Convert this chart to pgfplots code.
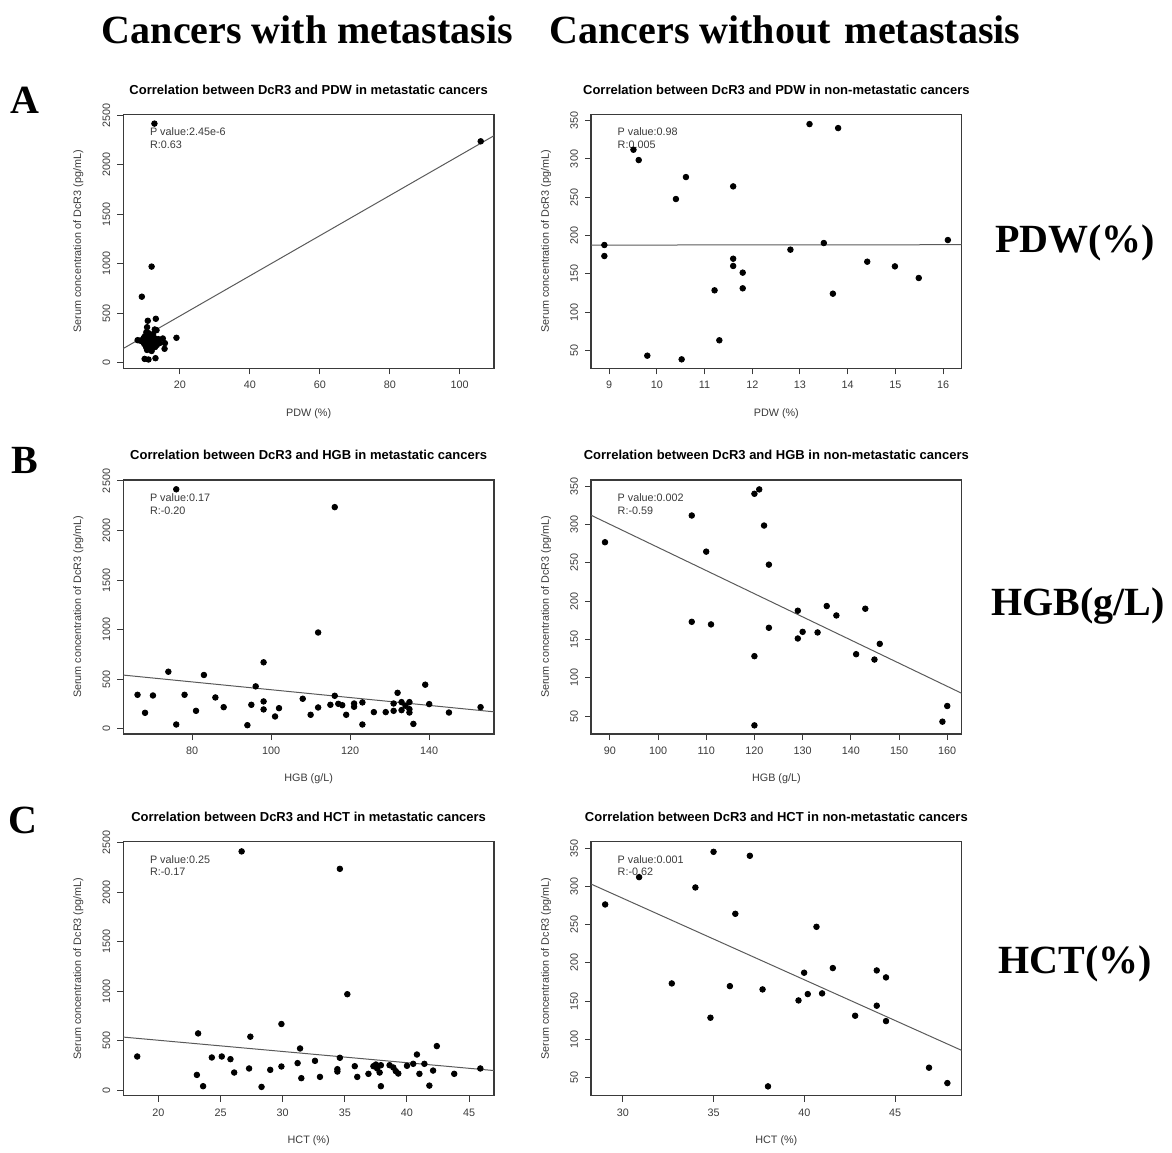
\documentclass[border=0pt]{standalone}
\usepackage{pgfplots}
\pgfplotsset{compat=1.18}
\usepackage{fontspec}
\setmainfont{Liberation Sans}
\newfontfamily\tnr{Liberation Serif}
\definecolor{axgray}{HTML}{3A3A3A}
\definecolor{lngray}{HTML}{5A5A5A}
\pgfplotsset{
 rplot/.style={
  scale only axis, width=185.35pt, height=127pt,
  anchor=south west,
  axis line style={axgray, line width=0.6pt},
  tick align=outside, tick pos=left,
  major tick length=3pt,
  every tick/.style={axgray, line width=0.5pt},
  minor tick num=0,
  /pgf/number format/assume math mode=true,
  /pgf/number format/1000 sep={},
  ticklabel style={font=\fontsize{5.4}{6}\selectfont, text=axgray},
  yticklabel style={rotate=90, anchor=south},
  every axis title/.style={at={(axis description cs:0.5,1.098)}, anchor=center, font=\fontsize{6.5}{7}\selectfont\bfseries},
  every axis x label/.style={at={(axis description cs:0.5,-0.177)}, anchor=center, font=\fontsize{5.4}{6}\selectfont, text=axgray},
  every axis y label/.style={at={(axis description cs:-0.1214,0.5)}, anchor=center, rotate=90, font=\fontsize{5.4}{6}\selectfont, text=axgray},
  ylabel={Serum concentration of DcR3 (pg/mL)},
 },
 pts/.style={only marks, mark=*, mark size=1.4pt, mark options={fill=black, draw=black}, black},
 fit/.style={no marks, lngray, line width=0.5pt},
}
\tikzset{ann/.style={anchor=west, font=\fontsize{5.4}{6}\selectfont, text=axgray}}
\begin{document}
\begin{tikzpicture}
\path (0,0) rectangle (586pt,574pt);
% headings
\node[anchor=base, font={\tnr\bfseries\fontsize{20}{24}\selectfont}] at (153.75pt,552pt) {Cancers with metastasis};
\node[anchor=base, font={\tnr\bfseries\fontsize{20}{24}\selectfont}] at (392.5pt,552pt) {Cancers without\hspace{0.35em}metastasis};
\node[anchor=base, font={\tnr\bfseries\fontsize{20}{24}\selectfont}] at (12.5pt,517pt) {A};
\node[anchor=base, font={\tnr\bfseries\fontsize{20}{24}\selectfont}] at (12.25pt,337.5pt) {B};
\node[anchor=base, font={\tnr\bfseries\fontsize{20}{24}\selectfont}] at (11.5pt,157.5pt) {C};
\node[anchor=base, font={\tnr\bfseries\fontsize{20}{24}\selectfont}] at (537.5pt,447.5pt) {PDW(\%)};
\node[anchor=base, font={\tnr\bfseries\fontsize{20}{24}\selectfont}] at (539pt,266.5pt) {HGB(g/L)};
\node[anchor=base, font={\tnr\bfseries\fontsize{20}{24}\selectfont}] at (537.5pt,87.5pt) {HCT(\%)};

% A left: PDW metastatic
\begin{axis}[rplot, at={(61.65pt,389.85pt)},
  title={Correlation between DcR3 and PDW in metastatic cancers},
  xlabel={PDW (\%)},
  xmin=3.8, xmax=109.8, ymin=-55, ymax=2510,
  xtick={20,40,60,80,100}, ytick={0,500,1000,1500,2000,2500}]
\addplot[pts] coordinates {
(12.7,2416) (106,2237) (11.9,972) (9.1,668) (13.1,445) (10.8,425) (10.6,360)
(12.8,337) (13.3,330) (19.0,253) (7.9,229) (15.1,246) (15.7,199) (15.6,142)
(9.9,40) (11.0,34) (13.0,47)
(9.3,215) (9.6,250) (9.8,190) (10.0,270) (10.2,230) (10.3,160) (10.5,200)
(10.6,130) (10.8,260) (10.9,180) (11.0,300) (11.1,215) (11.3,150) (11.4,240)
(11.6,190) (11.7,270) (11.9,120) (12.0,220) (12.2,170) (12.3,290) (12.5,200)
(12.7,250) (12.9,160) (13.1,215) (13.4,180) (13.8,240) (14.2,200) (8.6,225) (10.4,310)
};
\addplot[fit] coordinates {(3.8,145) (109.8,2294)};
\node[ann] at (axis description cs:0.053,0.931) {P value:2.45e-6};
\node[ann] at (axis description cs:0.053,0.880) {R:0.63};
\end{axis}

% A right: PDW non-metastatic
\begin{axis}[rplot, at={(295.5pt,389.85pt)},
  title={Correlation between DcR3 and PDW in non-metastatic cancers},
  xlabel={PDW (\%)},
  xmin=8.62, xmax=16.39, ymin=26.5, ymax=358.4,
  xtick={9,10,11,12,13,14,15,16}, ytick={50,100,150,200,250,300,350}]
\addplot[pts] coordinates {
(8.9,187.6) (8.9,173.2) (9.51,312.1) (9.62,298.6) (9.80,43) (10.40,247.7)
(10.52,38.2) (10.61,276.4) (11.21,128.4) (11.31,63.1) (11.60,264.2) (11.60,169.7)
(11.60,160.2) (11.80,151.5) (11.80,131.0) (12.80,181.5) (13.20,345.6) (13.50,190.2)
(13.69,124.0) (13.80,340.4) (14.41,165.8) (14.99,159.7) (15.49,144.5) (16.10,194.1)
};
\addplot[fit] coordinates {(8.62,187.5) (16.39,188)};
\node[ann] at (axis description cs:0.053,0.931) {P value:0.98};
\node[ann] at (axis description cs:0.053,0.880) {R:0.005};
\end{axis}

% B left: HGB metastatic
\begin{axis}[rplot, at={(61.65pt,207pt)},
  title={Correlation between DcR3 and HGB in metastatic cancers},
  xlabel={HGB (g/L)},
  xmin=62.6, xmax=156.4, ymin=-55, ymax=2510,
  xtick={80,100,120,140}, ytick={0,500,1000,1500,2000,2500}]
\addplot[pts] coordinates {
(66.2,341) (68.1,159) (70.1,334) (74.0,574) (76.0,2416) (76.0,41) (78.1,341)
(81.0,179) (83.0,541) (85.9,314) (88.0,216) (94.0,34) (95.0,240) (96.1,426)
(98.1,669) (98.1,274) (98.1,193) (101.0,122) (102.0,206) (108.0,301) (110.0,139)
(111.9,970) (111.9,213) (115.0,240) (116.1,2236) (116.1,331) (117.0,250) (118.0,236)
(119.0,139) (121.0,253) (121.0,220) (123.1,264) (123.1,41) (126.0,166) (129.0,166)
(131.0,179) (131.0,253) (132.0,361) (133.0,267) (133.0,186) (134.0,230) (135.0,267)
(135.0,196) (135.0,162) (136.0,47) (139.0,443) (140.0,247) (145.0,162) (153.0,216)
};
\addplot[fit] coordinates {(62.6,540) (156.4,169)};
\node[ann] at (axis description cs:0.053,0.931) {P value:0.17};
\node[ann] at (axis description cs:0.053,0.880) {R:-0.20};
\end{axis}

% B right: HGB non-metastatic
\begin{axis}[rplot, at={(295.5pt,207pt)},
  title={Correlation between DcR3 and HGB in non-metastatic cancers},
  xlabel={HGB (g/L)},
  xmin=86.1, xmax=163, ymin=26.5, ymax=358.4,
  xtick={90,100,110,120,130,140,150,160}, ytick={50,100,150,200,250,300,350}]
\addplot[pts] coordinates {
(89.0,277.1) (107,312.0) (107,173.1) (110.0,264.8) (111,169.7) (120,340.4)
(120,128.2) (120,37.8) (121.0,346.1) (122.0,298.9) (123.0,247.8) (123.0,165.3)
(129.0,187.6) (129.0,151.3) (130.0,160.0) (133.1,159.2) (135.0,193.7) (137.0,181.4)
(141.1,130.8) (143.0,190.2) (144.9,123.8) (146.0,144.3) (159.0,42.6) (160.0,63.1)
};
\addplot[fit] coordinates {(86.1,312.4) (163,79.7)};
\node[ann] at (axis description cs:0.053,0.931) {P value:0.002};
\node[ann] at (axis description cs:0.053,0.880) {R:-0.59};
\end{axis}

% C left: HCT metastatic
\begin{axis}[rplot, at={(61.65pt,26.15pt)},
  title={Correlation between DcR3 and HCT in metastatic cancers},
  xlabel={HCT (\%)},
  xmin=17.18, xmax=47.0, ymin=-55, ymax=2510,
  xtick={20,25,30,35,40,45}, ytick={0,500,1000,1500,2000,2500}]
\addplot[pts] coordinates {
(18.3,341) (23.1,155) (23.2,574) (23.6,41) (24.3,331) (25.1,341) (25.8,314)
(26.1,179) (26.7,2412) (27.3,220) (27.4,541) (28.3,34) (29.0,206) (29.9,669)
(29.9,240) (31.2,274) (31.4,422) (31.5,122) (32.6,297) (33.0,135) (34.4,213)
(34.4,189) (34.6,2236) (34.6,328) (35.2,970) (35.8,243) (36.0,135) (36.9,166)
(37.3,243) (37.5,260) (37.6,220) (37.8,179) (37.9,253) (37.9,41) (38.6,253)
(38.9,230) (39.1,193) (39.3,169) (40.0,247) (40.5,267) (40.8,361) (41.0,166)
(41.4,267) (41.8,47) (42.1,199) (42.4,446) (43.8,166) (45.9,220)
};
\addplot[fit] coordinates {(17.18,537) (47.0,199)};
\node[ann] at (axis description cs:0.053,0.931) {P value:0.25};
\node[ann] at (axis description cs:0.053,0.880) {R:-0.17};
\end{axis}

% C right: HCT non-metastatic
\begin{axis}[rplot, at={(295.5pt,26.15pt)},
  title={Correlation between DcR3 and HCT in non-metastatic cancers},
  xlabel={HCT (\%)},
  xmin=28.25, xmax=48.67, ymin=26.5, ymax=358.4,
  xtick={30,35,40,45}, ytick={50,100,150,200,250,300,350}]
\addplot[pts] coordinates {
(29.03,276.4) (30.9,312.1) (32.7,173.2) (34.0,298.6) (34.83,128.4) (35.0,345.2)
(35.9,169.7) (36.2,264.2) (37.0,340.0) (37.7,165.4) (38.0,38.7) (39.68,151.0)
(39.99,187.2) (40.19,159.3) (40.67,247.2) (40.98,160.2) (41.57,193.3) (42.8,131.0)
(43.99,190.2) (43.99,144.1) (44.5,181.1) (44.5,124.0) (46.87,63.1) (47.88,43.0)
};
\addplot[fit] coordinates {(28.26,303) (48.67,85.7)};
\node[ann] at (axis description cs:0.053,0.931) {P value:0.001};
\node[ann] at (axis description cs:0.053,0.880) {R:-0.62};
\end{axis}
\end{tikzpicture}
\end{document}
